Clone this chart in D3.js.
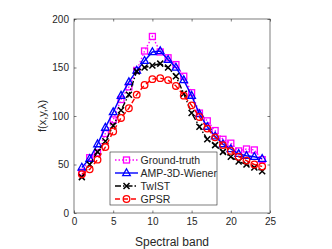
<!DOCTYPE html>
<html>
<head>
<meta charset="utf-8">
<script src="https://cdn.jsdelivr.net/npm/d3@7"></script>
<style>
  html, body { margin: 0; padding: 0; background: #fff; }
  svg { display: block; font-family: "Liberation Sans", Arial, sans-serif; }
</style>
</head>
<body>
<svg id="chart"></svg>
<script>
const width = 332;
const height = 249;

const bands = d3.range(1, 25);
const groundTruth = [42, 57, 62, 82, 96, 117, 130, 147, 167, 182, 166, 160, 153, 141, 124, 103, 95, 85, 76, 72, 64, 66, 65, 55];
const ampWiener = [47, 56, 71, 88, 104, 121, 135, 147, 157, 166, 167, 158, 150, 137, 121, 102, 89, 79, 71, 66, 61, 59, 58, 56];
const twist = [37, 50, 63, 74, 90, 106, 122, 146, 150, 152, 154, 150, 141, 123, 103, 89, 76, 70, 63, 58, 53, 50, 47, 43];
const gpsr = [40, 45, 55, 68, 84, 98, 108, 122, 132, 138, 139, 137, 131, 121, 111, 99, 87, 78, 70, 64, 58, 54, 50, 48];

const xTicks = [0, 5, 10, 15, 20, 25];
const yTicks = [0, 50, 100, 150, 200];

const series = [
  { name: "Ground-truth", values: groundTruth, color: "#ff00ff", dash: "1.5,2", marker: "square" },
  { name: "AMP-3D-Wiener", values: ampWiener, color: "#0000ff", dash: null, marker: "triangle" },
  { name: "TwIST", values: twist, color: "#000000", dash: "6,2,1.5,2", marker: "cross" },
  { name: "GPSR", values: gpsr, color: "#ff0000", dash: "5,3", marker: "circle" }
];

const margin = { left: 74, right: 62, top: 19, bottom: 36 };

const svg = d3.select("#chart").attr("width", width).attr("height", height);

const x = d3.scaleLinear().domain([0, 25]).range([margin.left, width - margin.right]);
const y = d3.scaleLinear().domain([0, 200]).range([height - margin.bottom, margin.top]);

const axisColor = "#262626";

// axes box
svg.append("rect")
  .attr("x", x(0))
  .attr("y", y(200))
  .attr("width", x(25) - x(0))
  .attr("height", y(0) - y(200))
  .attr("fill", "none")
  .attr("stroke", axisColor)
  .attr("stroke-width", 0.6);

const xAxis = svg.append("g")
  .attr("transform", `translate(0,${y(0)})`)
  .call(d3.axisBottom(x).tickValues(xTicks).tickSize(-2.5).tickPadding(5));
const xAxisTop = svg.append("g")
  .attr("transform", `translate(0,${y(200)})`)
  .call(d3.axisTop(x).tickValues(xTicks).tickSize(-2.5).tickFormat(""));
const yAxis = svg.append("g")
  .attr("transform", `translate(${x(0)},0)`)
  .call(d3.axisLeft(y).tickValues(yTicks).tickSize(-2.5).tickPadding(5));
const yAxisRight = svg.append("g")
  .attr("transform", `translate(${x(25)},0)`)
  .call(d3.axisRight(y).tickValues(yTicks).tickSize(-2.5).tickFormat(""));

[xAxis, xAxisTop, yAxis, yAxisRight].forEach((g) => {
  g.select(".domain").remove();
  g.selectAll("line").attr("stroke", axisColor).attr("stroke-width", 0.6);
  g.selectAll("text").attr("fill", axisColor).style("font-size", "10px");
});

svg.append("text")
  .attr("x", (x(0) + x(25)) / 2)
  .attr("y", 246)
  .attr("text-anchor", "middle")
  .attr("fill", axisColor)
  .style("font-size", "12px")
  .text("Spectral band");

svg.append("text")
  .attr("transform", `translate(46,${(y(0) + y(200)) / 2}) rotate(-90)`)
  .attr("text-anchor", "middle")
  .attr("fill", axisColor)
  .style("font-size", "11px")
  .text("f(x,y,λ)");

function drawMarker(g, type, cx, cy, color) {
  if (type === "square") {
    g.append("rect").attr("x", cx - 3).attr("y", cy - 3).attr("width", 6).attr("height", 6)
      .attr("fill", "none").attr("stroke", color).attr("stroke-width", 1.3);
  } else if (type === "triangle") {
    g.append("path").attr("d", `M${cx},${cy - 4.2}L${cx + 3.8},${cy + 2.6}L${cx - 3.8},${cy + 2.6}Z`)
      .attr("fill", "none").attr("stroke", color).attr("stroke-width", 1.3);
  } else if (type === "cross") {
    g.append("path").attr("d", `M${cx - 3},${cy - 3}L${cx + 3},${cy + 3}M${cx - 3},${cy + 3}L${cx + 3},${cy - 3}`)
      .attr("fill", "none").attr("stroke", color).attr("stroke-width", 1.5);
  } else {
    g.append("circle").attr("cx", cx).attr("cy", cy).attr("r", 3.3)
      .attr("fill", "none").attr("stroke", color).attr("stroke-width", 1.3);
  }
}

const line = d3.line().x((d, i) => x(bands[i])).y((d) => y(d));

series.forEach((s) => {
  const g = svg.append("g");
  g.append("path")
    .attr("d", line(s.values))
    .attr("fill", "none")
    .attr("stroke", s.color)
    .attr("stroke-width", 1.4)
    .attr("stroke-dasharray", s.dash);
  s.values.forEach((v, i) => drawMarker(g, s.marker, x(bands[i]), y(v), s.color));
});

// legend
const legend = svg.append("g");
legend.append("rect")
  .attr("x", 110).attr("y", 152).attr("width", 107).attr("height", 53)
  .attr("fill", "#fff").attr("stroke", axisColor).attr("stroke-width", 0.6);

series.forEach((s, i) => {
  const ly = 160 + i * 13;
  legend.append("line")
    .attr("x1", 115).attr("x2", 138).attr("y1", ly).attr("y2", ly)
    .attr("stroke", s.color).attr("stroke-width", 1.4)
    .attr("stroke-dasharray", s.dash);
  drawMarker(legend, s.marker, 126.5, ly, s.color);
  legend.append("text")
    .attr("x", 140.5).attr("y", ly + 3.8)
    .attr("fill", axisColor)
    .style("font-size", "10.5px")
    .text(s.name);
});
</script>
</body>
</html>
